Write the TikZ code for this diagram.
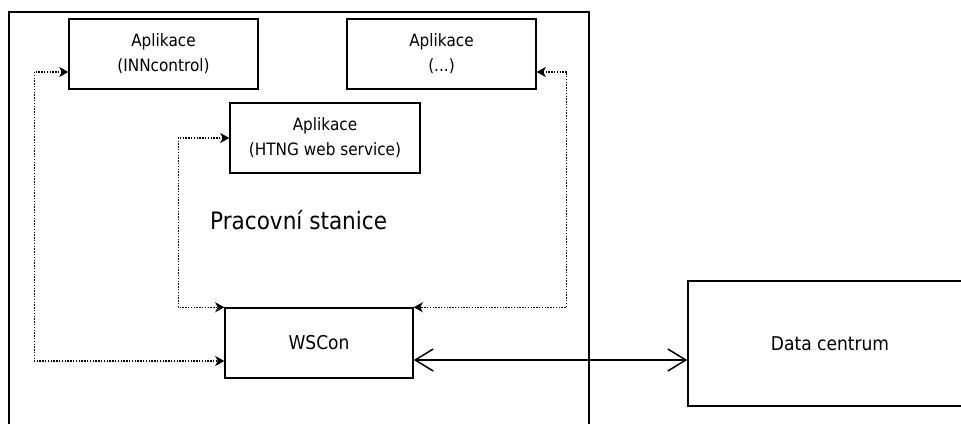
\documentclass[tikz,border=0pt]{standalone}
\usepackage{fontspec}
\setmainfont{DejaVu Sans Condensed}
\usetikzlibrary{arrows.meta,calc}
\begin{document}
\begin{tikzpicture}[x=1pt,y=-1pt,
  box/.style={draw,line width=1.5pt,inner sep=0pt,align=center,font=\fontsize{17}{25}\selectfont},
  tip/.style={Stealth[length=9pt,width=10pt,inset=2.5pt]},
  dotarrow/.style={line width=1.4pt,dash pattern=on 1.4pt off 1.4pt,{Stealth[length=9pt,width=10pt,inset=2.5pt]}-{Stealth[length=9pt,width=10pt,inset=2.5pt]}},
  solidarrow/.style={line width=1.5pt,{Straight Barb[length=18pt,width=22pt]}-{Straight Barb[length=18pt,width=22pt]}}]
\useasboundingbox (0,0) rectangle (961,423);
\clip (0,0) rectangle (961,423);
\node[draw,line width=1.5pt,minimum width=580pt,minimum height=440pt,anchor=north west,inner sep=0pt] (ws) at (8,11) {};
\node[anchor=west,font=\fontsize{24}{28}\selectfont,inner sep=0pt] (wslabel) at (210,220) {Pracovní stanice};
\node[box,minimum width=189pt,minimum height=70pt] (inn) at (163.5,54) {Aplikace\\(INNcontrol)};
\node[box,minimum width=189pt,minimum height=70pt] (dots) at (441.5,54) {Aplikace\\(...)};
\node[box,minimum width=190pt,minimum height=70pt] (htng) at (325,138) {Aplikace\\(HTNG web service)};
\node[box,minimum width=188pt,minimum height=70pt,font=\fontsize{19}{24}\selectfont] (wscon) at (319,343) {WSCon};
\node[box,minimum width=284pt,minimum height=125pt,font=\fontsize{19}{24}\selectfont] (dc) at (830,343.5) {Data centrum};
\coordinate (wl) at ([yshift=-18pt]wscon.west);
\coordinate (innc) at ([xshift=-34pt,yshift=-18pt]inn.west);
\coordinate (htngc) at ([xshift=-51pt]htng.west);
\coordinate (dotsc) at ([xshift=30pt,yshift=-18pt]dots.east);
\coordinate (wr) at ([yshift=-17pt]wscon.east);
\draw[dotarrow] ([yshift=-18pt]inn.west) -- (innc) |- (wl);
\draw[dotarrow] (htng.west) -- (htngc) |- (wscon.north west);
\draw[dotarrow] ([yshift=-18pt]dots.east) -- (dotsc) |- (wscon.north east);
\draw[solidarrow] (wr) -- (dc.west |- wr);
\end{tikzpicture}
\end{document}
